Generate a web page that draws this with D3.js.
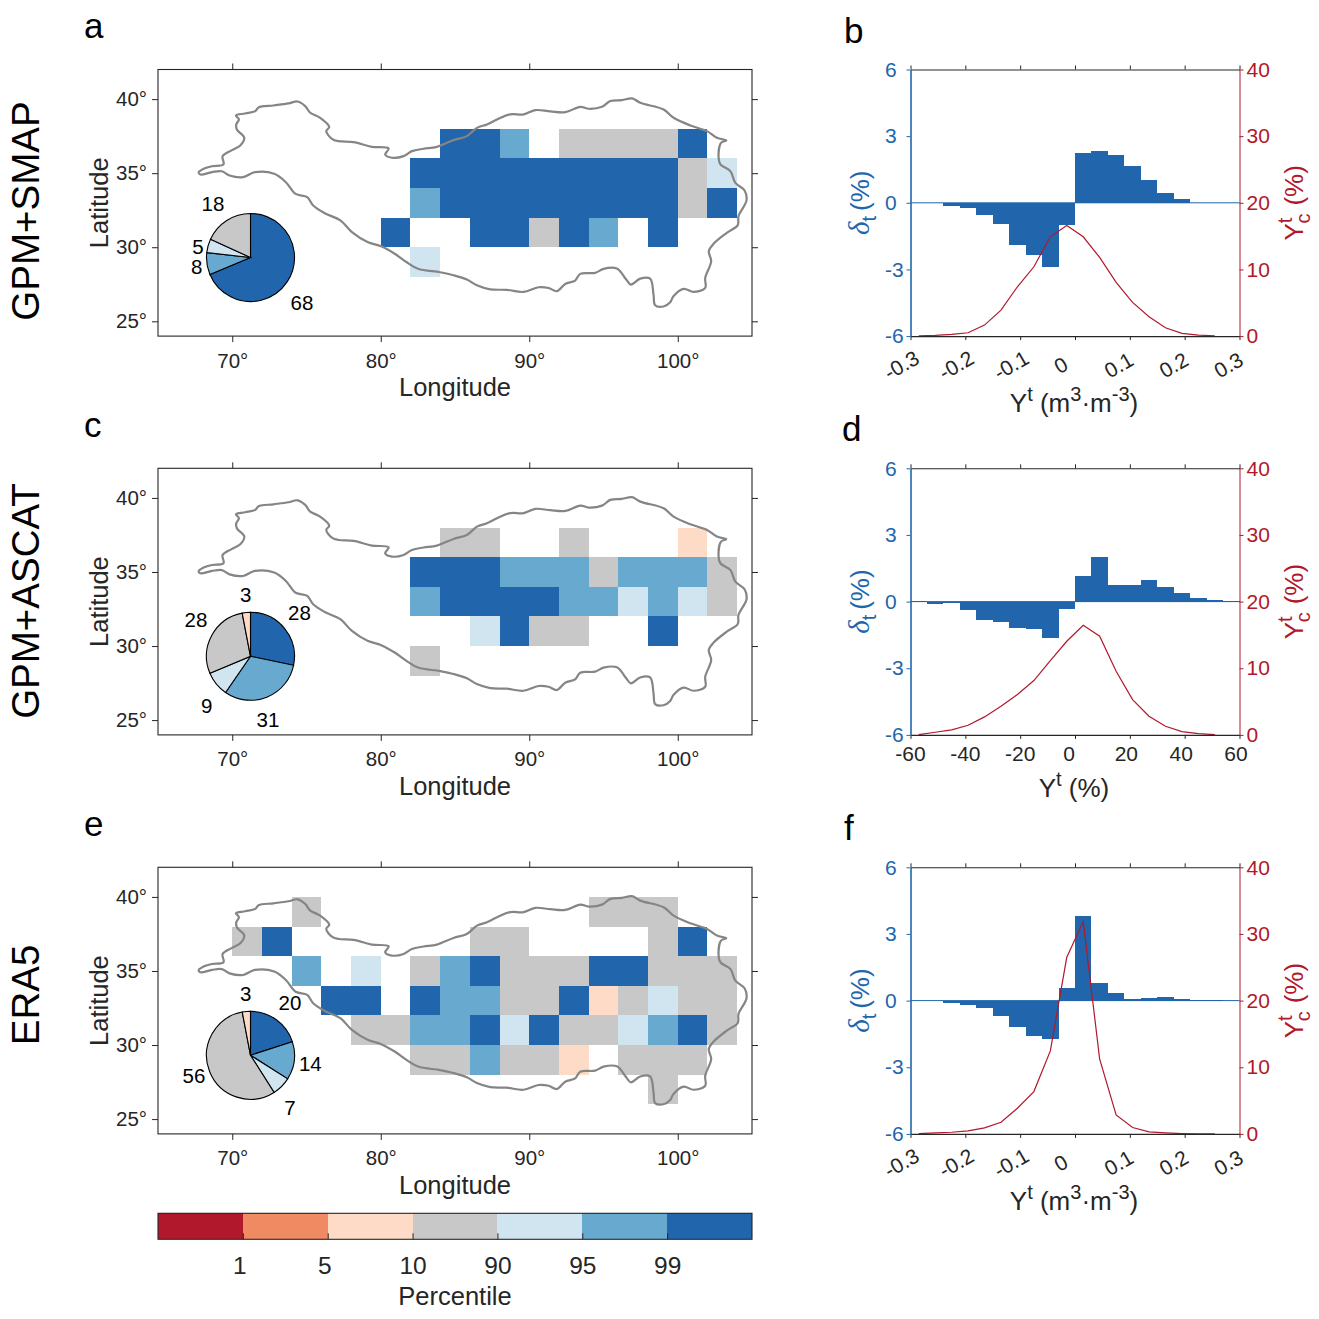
<!DOCTYPE html>
<html>
<head>
<meta charset="utf-8">
<script src="https://cdn.jsdelivr.net/npm/d3@7"></script>
<style>
  html, body { margin: 0; background: #fff; }
  svg { display: block; }
</style>
</head>
<body>
<svg id="chart" width="1319" height="1319"></svg>
<script>
// percentile classes, index = position in the colorbar
const classColors = ["#b2182b", "#ef8a62", "#fddbc7", "#c8c8c8", "#d1e5f0", "#67a9cf", "#2166ac"];
const classLabels = ["1", "5", "10", "90", "95", "99"];

// grid cells are 2 deg wide, one char per cell, "." = no cell
const gridLons = [70, 72, 74, 76, 78, 80, 82, 84, 86, 88, 90, 92, 94, 96, 98, 100, 102];
const gridLats = [38, 36, 34, 32, 30, 28, 26];

const gridSmap = [
  ".................",
  ".......665.33336.",
  "......66666666634",
  "......56666666636",
  ".....6..66365.6..",
  "......4..........",
  "................."
];
const gridAscat = [
  ".................",
  ".......33..3...2.",
  "......66655535553",
  "......56666554543",
  "........4633..6..",
  "......3..........",
  "................."
];
const gridEra5 = [
  "..3.........333..",
  "36......33....36.",
  "..5.4.35633366333",
  "...66.65533623433",
  "....3355646334563",
  "......335332.333.",
  "..............3.."
];

// share of cells, clockwise from 12 o'clock: class index and percentage
const pieSmap = [[6, 68], [5, 8], [4, 5], [3, 18]];
const pieAscat = [[6, 28], [5, 31], [4, 9], [3, 28], [2, 3]];
const pieEra5 = [[6, 20], [5, 14], [4, 7], [3, 56], [2, 3]];

// plateau outline [lon, lat]
const outline = [
  [67.71, 35.07], [68.07, 35.3], [68.63, 35.47], [69.41, 35.59], [69.35, 36.15], [69.98, 36.56],
  [70.54, 36.87], [70.81, 37.39], [70.31, 37.95], [70.27, 38.29], [70.45, 38.63], [70.25, 38.9],
  [70.87, 39.03], [71.55, 39.19], [71.77, 39.44], [72.78, 39.57], [73.79, 39.71], [74.4, 39.84],
  [74.91, 39.53], [75.25, 39.08], [75.92, 38.74], [76.53, 38.13], [76.33, 37.84], [76.71, 37.32],
  [77.16, 37.16], [78.17, 37.1], [79.4, 36.78], [80.53, 36.67], [80.3, 36.26], [80.75, 36.04],
  [81.54, 36.15], [82.1, 36.49], [82.88, 36.65], [83.78, 36.78], [84.9, 37.23], [85.8, 37.5],
  [86.48, 38.06], [87.15, 38.29], [87.83, 38.63], [88.72, 38.97], [89.62, 38.97], [90.41, 39.26],
  [91.42, 39.17], [92.43, 39.12], [93.44, 39.48], [94, 39.35], [94.9, 39.48], [95.46, 39.87],
  [96.24, 39.93], [96.92, 40.05], [97.48, 39.75], [99.05, 39.3], [99.72, 38.74], [100.85, 38.22],
  [101.97, 37.84], [102.64, 37.39], [103.27, 37.21], [102.91, 37.05], [102.75, 36.04], [102.87, 35.59],
  [103.54, 35.14], [103.88, 34.35], [104.5, 33.83], [104.63, 33.16], [104.09, 32.1], [104.04, 31.49],
  [103.3, 30.97], [102.41, 30.23], [102.09, 29.73], [102.25, 29.05], [101.85, 27.93], [101.85, 27.25],
  [101.06, 26.98], [100.39, 27.19], [99.71, 26.69], [99.49, 26.29], [99.04, 26], [98.48, 26.08],
  [98.37, 26.8], [98.14, 27.88], [97.47, 27.88], [96.84, 27.48], [96.53, 27.82], [95.9, 28.56],
  [95, 28.54], [94.44, 28.27], [93.43, 28.2], [93.09, 27.75], [92.42, 27.52], [91.86, 27.03],
  [91.3, 27.25], [90.62, 27.3], [89.61, 26.98], [88.49, 27.12], [87.37, 27.16], [86.47, 27.43],
  [85.8, 27.82], [84.9, 28.11], [84, 28.31], [82.51, 28.55], [81.73, 29], [80.94, 29.56],
  [80.03, 30.06], [79.11, 30.35], [78.06, 31.02], [77.28, 31.81], [76.23, 32.3], [75.45, 32.82],
  [75.05, 33.38], [74.27, 33.6], [73.61, 34.39], [72.83, 34.96], [71.52, 35.07], [70.73, 34.73],
  [69.82, 34.84], [69.29, 35.13], [68.64, 35.07], [67.85, 34.91], [67.71, 35.07]
];

// histogram bin edges and centres
const edgesVol = [-0.3, -0.27, -0.24, -0.21, -0.18, -0.15, -0.12, -0.09, -0.06, -0.03, 0, 0.03, 0.06, 0.09, 0.12, 0.15, 0.18, 0.21, 0.24, 0.27, 0.3];
const edgesPct = [-60, -54, -48, -42, -36, -30, -24, -18, -12, -6, 0, 6, 12, 18, 24, 30, 36, 42, 48, 54, 60];
const centersVol = [-0.285, -0.255, -0.225, -0.195, -0.165, -0.135, -0.105, -0.075, -0.045, -0.015, 0.015, 0.045, 0.075, 0.105, 0.135, 0.165, 0.195, 0.225, 0.255];
const centersPct = [-57, -51, -45, -39, -33, -27, -21, -15, -9, -3, 3, 9, 15, 21, 27, 33, 39, 45, 51];

// delta_t per bin (%)
const deltaB = [0, 0, -0.13, -0.24, -0.55, -0.96, -1.9, -2.35, -2.88, -1.0, 2.23, 2.34, 2.17, 1.65, 1.02, 0.43, 0.17, 0, 0, 0];
const deltaD = [0.02, -0.12, -0.07, -0.4, -0.81, -0.94, -1.21, -1.23, -1.65, -0.33, 1.15, 1.99, 0.75, 0.73, 0.97, 0.66, 0.39, 0.15, 0.06, 0.01];
const deltaF = [0, -0.04, -0.09, -0.22, -0.34, -0.7, -1.18, -1.59, -1.75, 0.57, 3.81, 0.8, 0.35, 0.05, 0.1, 0.16, 0.07, 0.01, 0.01, 0];

// Y_c^t at bin centres (%)
const curveB = [0.05, 0.1, 0.25, 0.5, 1.65, 3.9, 7.4, 10.4, 14.9, 16.6, 14.9, 11.8, 8.05, 5.05, 2.9, 1.25, 0.4, 0.15, 0.05];
const curveD = [0.05, 0.4, 0.75, 1.45, 2.7, 4.3, 6.05, 8.15, 11.15, 14.05, 16.45, 14.8, 9.55, 5.3, 2.8, 1.3, 0.5, 0.2, 0.05];
const curveF = [0.05, 0.15, 0.25, 0.45, 0.9, 1.75, 3.85, 6.35, 12.45, 26.5, 31.85, 11.2, 2.85, 0.95, 0.3, 0.15, 0.05, 0, 0];

const ticksVol = [-0.3, -0.2, -0.1, 0, 0.1, 0.2, 0.3];
const ticksPct = [-60, -40, -20, 0, 20, 40, 60];

const font = "'Liberation Sans', Arial, sans-serif";
const dark = "#262626";
const blue = "#2166ac";
const red = "#b2182b";

const svg = d3.select("#chart").attr("font-family", font);

// 1. Map panels
const mapLeft = 158, mapRight = 752, panelH = 266.6;
const pieX = 250.5, pieR = 44;

function drawMap(top, grid, pieData, pieLabels) {
  const g = svg.append("g");
  const x = d3.scaleLinear().domain([65, 105]).range([mapLeft, mapRight]);
  const y = d3.scaleLinear().domain([24, 42]).range([top + panelH, top]);

  // cells
  grid.forEach((row, r) => {
    row.split("").forEach((c, i) => {
      if (c === ".") return;
      const lon = gridLons[i], lat = gridLats[r];
      g.append("rect")
        .attr("x", x(lon))
        .attr("y", y(lat + 2))
        .attr("width", x(lon + 2) - x(lon))
        .attr("height", y(lat) - y(lat + 2))
        .attr("fill", classColors[+c])
        .attr("shape-rendering", "crispEdges");
    });
  });

  // outline
  const line = d3.line().x(d => x(d[0])).y(d => y(d[1])).curve(d3.curveCatmullRom.alpha(0.5));
  g.append("path")
    .attr("d", line(outline))
    .attr("fill", "none")
    .attr("stroke", "#858585")
    .attr("stroke-width", 2.2)
    .attr("stroke-linejoin", "round");

  // frame and ticks
  g.append("rect")
    .attr("x", mapLeft).attr("y", top)
    .attr("width", mapRight - mapLeft).attr("height", panelH)
    .attr("fill", "none").attr("stroke", dark).attr("stroke-width", 1.1);

  const lonTicks = [70, 80, 90, 100], latTicks = [25, 30, 35, 40];
  const deg = d => d + "°";
  const addAxis = (axis, tx, ty) => {
    const a = g.append("g")
      .attr("transform", `translate(${tx},${ty})`)
      .attr("color", dark)
      .call(axis);
    a.select(".domain").remove();
    a.attr("font-family", font).attr("font-size", 20.5);
    return a;
  };
  addAxis(d3.axisBottom(x).tickValues(lonTicks).tickFormat(deg).tickSize(6).tickPadding(11), 0, top + panelH);
  addAxis(d3.axisTop(x).tickValues(lonTicks).tickFormat("").tickSize(6), 0, top);
  addAxis(d3.axisLeft(y).tickValues(latTicks).tickFormat(deg).tickSize(6).tickPadding(5), mapLeft, 0);
  addAxis(d3.axisRight(y).tickValues(latTicks).tickFormat("").tickSize(6), mapRight, 0);

  g.append("text")
    .attr("x", 455).attr("y", top + panelH + 60)
    .attr("text-anchor", "middle").attr("font-size", 25.5).attr("fill", dark)
    .text("Longitude");
  g.append("text")
    .attr("transform", `translate(108,${top + panelH / 2}) rotate(-90)`)
    .attr("text-anchor", "middle").attr("font-size", 25.5).attr("fill", dark)
    .text("Latitude");

  // pie inset
  const pie = d3.pie().sort(null).value(d => d[1]);
  const arc = d3.arc().innerRadius(0).outerRadius(pieR);
  g.append("g")
    .attr("transform", `translate(${pieX},${top + 188})`)
    .selectAll("path")
    .data(pie(pieData))
    .join("path")
    .attr("d", arc)
    .attr("fill", d => classColors[d.data[0]])
    .attr("stroke", "#000")
    .attr("stroke-width", 1.1);

  pieLabels.forEach(l => {
    g.append("text")
      .attr("x", l[1]).attr("y", top + l[2])
      .attr("text-anchor", "middle").attr("dy", "0.35em")
      .attr("font-size", 20.5).attr("fill", "#000")
      .text(l[0]);
  });
}

// label text, centre x, centre y below panel top
drawMap(69.5, gridSmap, pieSmap, [["18", 213, 134.5], ["5", 198, 177], ["8", 196.7, 197], ["68", 302, 233]]);
drawMap(468.3, gridAscat, pieAscat, [["3", 245.7, 126.7], ["28", 196, 151.7], ["28", 299.4, 144.4], ["9", 206.8, 237.7], ["31", 268, 251.7]]);
drawMap(867.3, gridEra5, pieEra5, [["3", 245.7, 126.7], ["20", 290, 136], ["14", 310.3, 196.7], ["7", 290, 240.7], ["56", 194, 208.7]]);

// 2. Histogram panels
const histLeft = 910.5, histRight = 1239.5;

function drawHist(top, edges, centers, delta, curve, ticks, tickFn, xTitle, titleY) {
  const g = svg.append("g");
  const x = d3.scaleLinear().domain([edges[0], edges[edges.length - 1]]).range([histLeft, histRight]);
  const yL = d3.scaleLinear().domain([-6, 6]).range([top + panelH, top]);
  const yR = d3.scaleLinear().domain([0, 40]).range([top + panelH, top]);

  g.selectAll("rect")
    .data(delta)
    .join("rect")
    .attr("x", (d, i) => x(edges[i]))
    .attr("width", (d, i) => x(edges[i + 1]) - x(edges[i]))
    .attr("y", d => yL(Math.max(d, 0)))
    .attr("height", d => Math.abs(yL(d) - yL(0)))
    .attr("fill", blue)
    .attr("shape-rendering", "crispEdges");

  g.append("line")
    .attr("x1", histLeft).attr("x2", histRight)
    .attr("y1", yL(0)).attr("y2", yL(0))
    .attr("stroke", blue).attr("stroke-width", 1);

  const line = d3.line().x((d, i) => x(centers[i])).y(d => yR(d));
  g.append("path")
    .attr("d", line(curve))
    .attr("fill", "none").attr("stroke", red).attr("stroke-width", 1.2);

  // x axes
  const bottom = g.append("g")
    .attr("transform", `translate(0,${top + panelH})`)
    .attr("color", dark)
    .call(d3.axisBottom(x).tickValues(ticks).tickFormat("").tickSize(4).tickSizeOuter(0));
  const topAxis = g.append("g")
    .attr("transform", `translate(0,${top})`)
    .attr("color", dark)
    .call(d3.axisTop(x).tickValues(ticks).tickFormat("").tickSize(4).tickSizeOuter(0));
  bottom.select(".domain").attr("stroke-width", 1.1);
  topAxis.select(".domain").attr("stroke-width", 1.1);
  tickFn(g, x, top + panelH);

  // y axes, plain hyphen for negatives as in the original
  const left = g.append("g")
    .attr("transform", `translate(${histLeft},0)`)
    .attr("color", blue)
    .call(d3.axisLeft(yL).tickValues([-6, -3, 0, 3, 6]).tickFormat(d => String(d)).tickSize(4).tickSizeOuter(0));
  left.attr("font-family", font).attr("font-size", 21);
  left.select(".domain").attr("stroke-width", 1.6);
  left.selectAll("text").attr("text-anchor", "start").attr("x", -25.5);

  const right = g.append("g")
    .attr("transform", `translate(${histRight},0)`)
    .attr("color", red)
    .call(d3.axisRight(yR).tickValues([0, 10, 20, 30, 40]).tickSize(4).tickSizeOuter(0));
  right.attr("font-family", font).attr("font-size", 21);

  // axis titles
  g.append("text")
    .attr("transform", `translate(869,${top + panelH / 2}) rotate(-90)`)
    .attr("text-anchor", "middle").attr("font-size", 26).attr("fill", blue)
    .html(`<tspan font-family="'Liberation Serif', serif" font-style="italic" font-size="29">δ</tspan><tspan dy="7" font-size="20">t</tspan><tspan dy="-7" dx="5">(%)</tspan>`);
  g.append("text")
    .attr("transform", `translate(1303,${top + panelH / 2}) rotate(-90)`)
    .attr("text-anchor", "middle").attr("font-size", 26).attr("fill", red)
    .html(`Y<tspan dy="-11" font-size="20">t</tspan><tspan dx="-6" dy="18" font-size="20">c</tspan><tspan dy="-7" dx="8">(%)</tspan>`);
  g.append("text")
    .attr("x", 1074).attr("y", titleY)
    .attr("text-anchor", "middle").attr("font-size", 26).attr("fill", dark)
    .html(xTitle);
}

// rotated labels on the soil moisture panels
function slantTicks(g, x, bottom) {
  g.append("g").selectAll("text")
    .data(ticksVol)
    .join("text")
    .attr("transform", d => {
      const off = d === 0 ? -14 : d < 0 ? -9 : -11;
      return `translate(${x(d) + off},${bottom + 29}) rotate(-30)`;
    })
    .attr("text-anchor", "middle").attr("dy", "0.35em")
    .attr("font-size", 21).attr("fill", dark)
    .text(d => d);
}

function flatTicks(g, x, bottom) {
  g.append("g").selectAll("text")
    .data(ticksPct)
    .join("text")
    .attr("x", d => x(d) + (d === 0 ? -6 : d > 0 ? -3.5 : 0))
    .attr("y", bottom + 26.5)
    .attr("text-anchor", "middle")
    .attr("font-size", 21).attr("fill", dark)
    .text(d => d);
}

const volTitle = `Y<tspan dy="-11" font-size="20">t</tspan><tspan dy="11"> (m</tspan><tspan dy="-11" font-size="20">3</tspan><tspan dy="11">·m</tspan><tspan dy="-11" font-size="20">-3</tspan><tspan dy="11">)</tspan>`;
const pctTitle = `Y<tspan dy="-11" font-size="20">t</tspan><tspan dy="11"> (%)</tspan>`;

drawHist(69.5, edgesVol, centersVol, deltaB, curveB, ticksVol, slantTicks, volTitle, 412);
drawHist(468.3, edgesPct, centersPct, deltaD, curveD, ticksPct, flatTicks, pctTitle, 797);
drawHist(867.3, edgesVol, centersVol, deltaF, curveF, ticksVol, slantTicks, volTitle, 1210);

// 3. Colorbar
const cbTop = 1213.3, cbH = 26;
const cb = d3.scaleLinear().domain([0, classColors.length]).range([mapLeft, mapRight]);

svg.append("g").selectAll("rect")
  .data(classColors)
  .join("rect")
  .attr("x", (d, i) => cb(i))
  .attr("y", cbTop)
  .attr("width", (d, i) => cb(i + 1) - cb(i))
  .attr("height", cbH)
  .attr("fill", d => d)
  .attr("shape-rendering", "crispEdges");

svg.append("rect")
  .attr("x", mapLeft).attr("y", cbTop)
  .attr("width", mapRight - mapLeft).attr("height", cbH)
  .attr("fill", "none").attr("stroke", dark).attr("stroke-width", 1.1);

const cbAxis = svg.append("g")
  .attr("transform", `translate(0,${cbTop + cbH})`)
  .attr("color", dark)
  .call(d3.axisBottom(cb).tickValues(d3.range(1, classColors.length))
    .tickFormat(i => classLabels[i - 1]).tickSize(-6).tickPadding(17));
cbAxis.select(".domain").remove();
cbAxis.attr("font-family", font).attr("font-size", 24.5);
cbAxis.selectAll("text").attr("dx", (d, i) => i < 2 ? -3.5 : 0);

svg.append("text")
  .attr("x", 455).attr("y", 1305)
  .attr("text-anchor", "middle").attr("font-size", 25.5).attr("fill", dark)
  .text("Percentile");

// 4. Row names and panel letters
const rowNames = [["GPM+SMAP", 211], ["GPM+ASCAT", 601], ["ERA5", 995]];
rowNames.forEach(d => {
  svg.append("text")
    .attr("transform", `translate(39,${d[1]}) rotate(-90)`)
    .attr("text-anchor", "middle").attr("font-size", 38.5).attr("fill", "#000")
    .text(d[0]);
});

const panelLetters = [["a", 84, 38], ["b", 844, 43], ["c", 84, 437], ["d", 842, 441], ["e", 84, 836], ["f", 844, 840]];
panelLetters.forEach(d => {
  svg.append("text")
    .attr("x", d[1]).attr("y", d[2])
    .attr("font-size", 35).attr("fill", "#000")
    .text(d[0]);
});
</script>
</body>
</html>
